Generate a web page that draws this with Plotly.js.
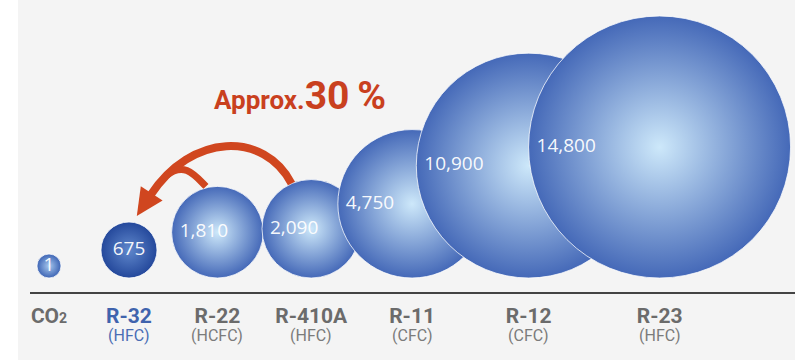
<!DOCTYPE html>
<html>
<head>
<meta charset="utf-8">
<script src="https://cdn.plot.ly/plotly-3.0.1.min.js"></script>
<style>
  html, body { margin: 0; padding: 0; background: #ffffff; width: 795px; height: 362px; overflow: hidden; }
  #chart { position: absolute; left: 18px; top: 0; width: 777px; height: 360px; }
</style>
</head>
<body>
<div id="chart"></div>
<script>
// Global warming potential (GWP) of common refrigerants, relative to CO2 = 1
const refrigerants = ['CO2', 'R-32', 'R-22', 'R-410A', 'R-11', 'R-12', 'R-23'];
const tickLabels   = ['CO<span style="font-size:14px">2</span>', 'R-32', 'R-22', 'R-410A', 'R-11', 'R-12', 'R-23'];
const groupLabels  = ['', '(HFC)', '(HCFC)', '(HFC)', '(CFC)', '(CFC)', '(HFC)'];
const gwp          = [1, 675, 1810, 2090, 4750, 10900, 14800];
const featured     = 'R-32';
const replacedFrom = 'R-410A';
const replacedAlso = 'R-22';
const headline     = ['Approx.', '30\u2009%'];

// ---- layout geometry (axis units are pixels on both axes) ----
const PLOT_W = 765, PLOT_H = 292;
const X_START = 30;             // left end of the baseline rule
const DROP = 14;                // gap between bubble bottoms and the rule
const TOP = PLOT_H - DROP;      // y value at the top of the plot area
const MAX_R = 131, MIN_R = 12;

// bubble area proportional to GWP
const vmax = Math.max(...gwp);
const radius = gwp.map(v => Math.max(MIN_R, MAX_R * Math.sqrt(v / vmax)));

// pack bubbles left to right: fixed step plus a share of the neighbouring radii
const xs = [];
radius.forEach((r, i) => {
  xs.push(i === 0 ? 49 : xs[i - 1] + 70 + 0.25 * (radius[i - 1] + r));
});
const ys = radius.slice();      // every bubble rests on the baseline

const isFeatured = refrigerants.map(n => n === featured);
const edgeColor = refrigerants.map((n, i) => isFeatured[i] ? '#24489b' : (i === 0 ? '#3d64b4' : '#4569b8'));
const coreColor = refrigerants.map((n, i) => isFeatured[i] ? '#6088cc' : (i === 0 ? '#a7c8ee' : '#cde8fa'));

const bubbles = {
  type: 'scatter', mode: 'markers',
  x: xs, y: ys,
  cliponaxis: false,
  hoverinfo: 'skip',
  marker: {
    size: radius.map(r => 2 * r),
    sizemode: 'diameter',
    color: edgeColor,
    gradient: { type: 'radial', color: coreColor },
    line: { color: 'rgba(255,255,255,0.75)', width: 1 },
    opacity: 1
  }
};

// value labels: centred in small bubbles, near the left rim of large ones
const small = radius.map(r => r < 35);
const valueLabels = {
  type: 'scatter', mode: 'text',
  x: xs.map((x, i) => small[i] ? x : x - radius[i] + 8),
  y: ys,
  text: gwp.map(v => v.toLocaleString('en-US')),
  textposition: small.map(s => s ? 'middle center' : 'middle right'),
  textfont: { family: 'Open Sans, Noto Sans, sans-serif', size: 19, color: 'rgba(255,255,255,0.96)' },
  cliponaxis: false,
  hoverinfo: 'skip'
};

// ---- curved arrow from the replaced refrigerants to R-32 ----
const pageY = yv => TOP - yv;          // data y -> pixel row
const dataY = py => TOP - py;          // pixel row -> data y
function centre(name) {
  const i = refrigerants.indexOf(name);
  return { x: xs[i], y: pageY(ys[i]), r: radius[i] };
}
const fromB = centre(replacedFrom), alsoB = centre(replacedAlso), toB = centre(featured);
const dir = [-0.55, 0.84];                  // heading of the arrow tip
const perp = [dir[1], -dir[0]];
const tip = [toB.x + 0.28 * toB.r, toB.y - toB.r - 6];
const HEAD_L = 27, HEAD_W = 13;
const base = [tip[0] - HEAD_L * dir[0], tip[1] - HEAD_L * dir[1]];
const P0 = [fromB.x - 0.4 * fromB.r, fromB.y - 0.92 * fromB.r];
const P1 = [P0[0] - 27, P0[1] - 52];
const P3 = [base[0] + 3 * dir[0], base[1] + 3 * dir[1]];
const P2 = [P3[0] - 76 * dir[0], P3[1] - 76 * dir[1]];
function bez(t) {
  const m = 1 - t;
  const a = m * m * m, b = 3 * m * m * t, c = 3 * m * t * t, d = t * t * t;
  return [a * P0[0] + b * P1[0] + c * P2[0] + d * P3[0], a * P0[1] + b * P1[1] + c * P2[1] + d * P3[1]];
}
const Q0 = [alsoB.x - 0.25 * alsoB.r, alsoB.y - 1.0 * alsoB.r];
const Q3 = bez(0.88);
const Q1 = [Q0[0] - 12, Q0[1] - 12];
const Q2 = [Q3[0] + 18, Q3[1] - 14];
const pt = p => p[0].toFixed(1) + ',' + dataY(p[1]).toFixed(1);
const ARROW = '#d0461f';

const shapes = [
  { type: 'path', xref: 'x', yref: 'y', layer: 'above',
    path: 'M' + pt(P0) + ' C' + pt(P1) + ' ' + pt(P2) + ' ' + pt(P3),
    line: { color: ARROW, width: 8 }, fillcolor: 'rgba(0,0,0,0)' },
  { type: 'path', xref: 'x', yref: 'y', layer: 'above',
    path: 'M' + pt(Q0) + ' C' + pt(Q1) + ' ' + pt(Q2) + ' ' + pt(Q3),
    line: { color: ARROW, width: 7 }, fillcolor: 'rgba(0,0,0,0)' },
  { type: 'path', xref: 'x', yref: 'y', layer: 'above',
    path: 'M' + pt(tip) + ' L' + pt([base[0] + HEAD_W * perp[0], base[1] + HEAD_W * perp[1]]) +
          ' L' + pt([base[0] - HEAD_W * perp[0], base[1] - HEAD_W * perp[1]]) + ' Z',
    line: { width: 0 }, fillcolor: ARROW }
];

// ---- text annotations ----
const paperY = py => (PLOT_H - py) / PLOT_H;   // pixel row -> paper fraction
const annotations = groupLabels.map((g, i) => ({
  x: xs[i], y: paperY(335.5), xref: 'x', yref: 'paper',
  text: g, showarrow: false, xanchor: 'center', yanchor: 'middle',
  font: { family: 'Roboto, sans-serif', size: 16, color: isFeatured[i] ? '#4a6db4' : '#7b7b7b' }
})).filter(a => a.text);

annotations.push({
  x: 212, y: dataY(121), xref: 'x', yref: 'y',
  xanchor: 'left', yanchor: 'bottom', showarrow: false,
  text: '<b>' + headline[0] + '<span style="font-size:39px">' + headline[1] + '</span></b>',
  font: { family: 'Roboto, sans-serif', size: 26, color: '#c9401e' }
});

const layout = {
  width: 777, height: 360,
  margin: { l: X_START - 18, r: 0, t: 0, b: 360 - PLOT_H },
  paper_bgcolor: '#f4f4f4', plot_bgcolor: '#f4f4f4',
  showlegend: false,
  xaxis: {
    range: [X_START, X_START + PLOT_W],
    showgrid: false, zeroline: false,
    showline: true, linecolor: '#444444', linewidth: 1.5,
    ticks: '', ticklabelstandoff: 4,
    tickmode: 'array', tickvals: xs,
    ticktext: tickLabels.map((t, i) => isFeatured[i]
      ? '<b><span style="color:#3f63ad">' + t + '</span></b>' : '<b>' + t + '</b>'),
    tickfont: { family: 'Roboto, sans-serif', size: 21, color: '#6b6b6b' },
    fixedrange: true
  },
  yaxis: {
    range: [-DROP, TOP],
    visible: false, showgrid: false, zeroline: false, fixedrange: true
  },
  shapes: shapes,
  annotations: annotations
};

Plotly.newPlot('chart', [bubbles, valueLabels], layout, { staticPlot: true, displayModeBar: false });
</script>
</body>
</html>
